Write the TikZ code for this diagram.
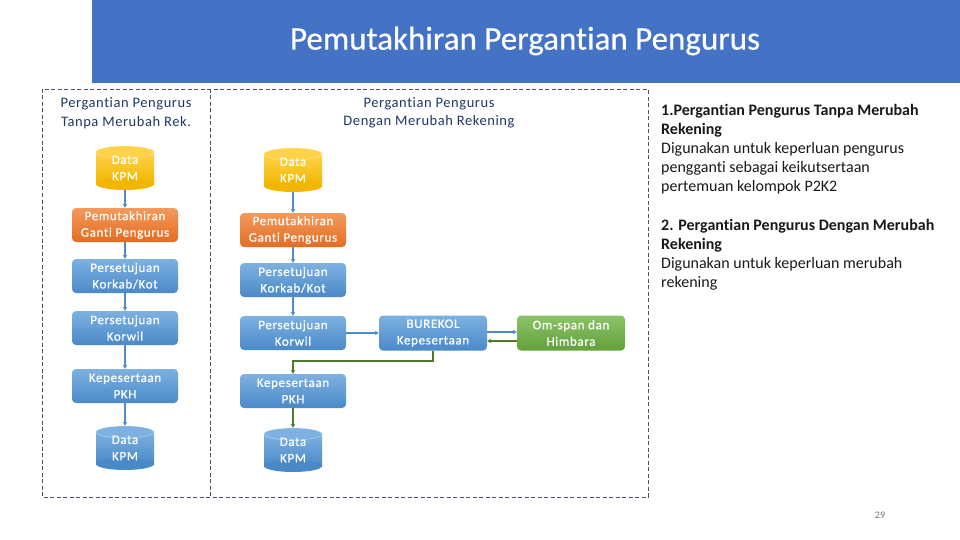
\documentclass[tikz,border=0pt]{standalone}
\usepackage{fontspec}
\setmainfont[Ligatures={NoCommon}]{Carlito}
\newfontfamily\boxfont[LetterSpace=5,FakeBold=0.6,Ligatures={NoCommon}]{Carlito}
\newfontfamily\hdrfont[LetterSpace=4,Ligatures={NoCommon}]{Carlito}
\newfontfamily\titlefont[FakeBold=0.5,Ligatures={NoCommon}]{Carlito}
\usetikzlibrary{arrows.meta}
\definecolor{banner}{HTML}{4472C4}
\definecolor{hdrtext}{HTML}{1F3864}
\definecolor{dashc}{HTML}{44546A}
\definecolor{bluetop}{HTML}{7DB1E1}
\definecolor{bluebot}{HTML}{4A89C8}
\definecolor{orgtop}{HTML}{F39A5C}
\definecolor{orgbot}{HTML}{E46C22}
\definecolor{yeltop}{HTML}{FFD24A}
\definecolor{yelbot}{HTML}{F2B600}
\definecolor{grntop}{HTML}{8CC46A}
\definecolor{grnbot}{HTML}{62A03A}
\definecolor{bline}{HTML}{4F8AC9}
\definecolor{gline}{HTML}{4E7A2E}
\tikzset{
  procbox/.style={rounded corners=4pt, minimum width=106pt, minimum height=34pt,
    text=white, font=\boxfont\fontsize{13}{16.5}\selectfont, align=center, inner sep=0pt},
  bluebox/.style={procbox, top color=bluetop, bottom color=bluebot},
  orangebox/.style={procbox, top color=orgtop, bottom color=orgbot},
  greenbox/.style={procbox, top color=grntop, bottom color=grnbot},
  cylnode/.style={minimum width=58pt, minimum height=44pt, inner sep=0pt,
    text=white, font=\boxfont\fontsize{13}{16.5}\selectfont, align=center},
  hdr/.style={text=hdrtext, font=\hdrfont\fontsize{14.5}{18.5}\selectfont, align=center},
  barrow/.style={draw=bline, line width=1.2pt, -{Stealth[length=4pt,width=4.5pt]}},
  garrow/.style={draw=gline, line width=1.4pt, -{Stealth[length=4pt,width=4.5pt]}},
  dashline/.style={draw=dashc, line width=0.8pt, dash pattern=on 4pt off 2.5pt}
}
% name, x, y, top colour, bottom colour
\newcommand\kpmcyl[5]{%
  \shade[top color=#4, bottom color=#5] (#2-29,#3-16) rectangle (#2+29,#3+16);
  \fill[#5] (#2,#3+16) ellipse [x radius=29pt, y radius=6pt];
  \fill[#4] (#2,#3-16) ellipse [x radius=29pt, y radius=6pt];
  \draw[white, opacity=0.35, line width=0.6pt] (#2,#3-16) ellipse [x radius=29pt, y radius=6pt];
  \node[cylnode] (#1) at (#2,#3) {Data\\KPM};
}
\begin{document}
\begin{tikzpicture}[x=1pt, y=-1pt]
\useasboundingbox (0,0) rectangle (960,540);
\fill[white] (0,0) rectangle (960,540);
% banner
\fill[banner] (92,0) rectangle (960,83);
\node[text=white, font=\titlefont\fontsize{33}{37}\selectfont] (title) at (525,41) {Pemutakhiran Pergantian Pengurus};
% dashed frame
\draw[dashline] (42,89) rectangle (648,497);
\draw[dashline] (210,89) -- (210,497);
% headers
\node[hdr] (hl) at (126,113) {Pergantian Pengurus\\Tanpa Merubah Rek.};
\node[hdr] (hr) at (429,113) {Pergantian Pengurus\\Dengan Merubah Rekening};
% left column
\kpmcyl{l0}{125}{168}{yeltop}{yelbot}
\node[orangebox] (l1) at (125,225) {Pemutakhiran\\Ganti Pengurus};
\node[bluebox] (l2) at (125,276) {Persetujuan\\Korkab/Kot};
\node[bluebox] (l3) at (125,328) {Persetujuan\\Korwil};
\node[bluebox] (l4) at (125,386) {Kepesertaan\\PKH};
\kpmcyl{l5}{125}{448}{bluetop}{bluebot}
% right column
\kpmcyl{r0}{293}{170}{yeltop}{yelbot}
\node[orangebox] (r1) at (293,230) {Pemutakhiran\\Ganti Pengurus};
\node[bluebox] (r2) at (293,280) {Persetujuan\\Korkab/Kot};
\node[bluebox] (r3) at (293,333) {Persetujuan\\Korwil};
\node[bluebox] (r4) at (293,391) {Kepesertaan\\PKH};
\kpmcyl{r5}{293}{450}{bluetop}{bluebot}
\node[bluebox, minimum width=108pt, minimum height=35pt] (bur) at (433,333) {BUREKOL\\Kepesertaan};
\node[greenbox, minimum width=108pt, minimum height=35pt] (oms) at (571,333) {Om-span dan\\Himbara};
% connectors left
\draw[barrow] (l0) -- (l1);
\draw[barrow] (l1) -- (l2);
\draw[barrow] (l2) -- (l3);
\draw[barrow] (l3) -- (l4);
\draw[barrow] (l4) -- (l5);
% connectors right
\draw[barrow] (r0) -- (r1);
\draw[barrow] (r1) -- (r2);
\draw[barrow] (r2) -- (r3);
\draw[barrow] (r3) -- (bur);
\draw[barrow] ([yshift=1pt]bur.east) -- ([yshift=1pt]oms.west);
\draw[garrow] ([yshift=-8pt]oms.west) -- ([yshift=-8pt]bur.east);
\coordinate (bend) at (433,361);
\draw[garrow] (bur.south) -- (bend) -| (r4.north);
\draw[garrow] (r4) -- (r5);
% explanation text
\node[anchor=north west, align=left, inner sep=0pt, text=black!90,
  font=\fontsize{16}{19}\selectfont] (expl) at (661,104)
  {\textbf{1.Pergantian Pengurus Tanpa Merubah}\\
   \textbf{Rekening}\\
   Digunakan untuk keperluan pengurus\\
   pengganti sebagai keikutsertaan\\
   pertemuan kelompok P2K2\\[20pt]
   \textbf{2. Pergantian Pengurus Dengan Merubah}\\
   \textbf{Rekening}\\
   Digunakan untuk keperluan merubah\\
   rekening};
% page number
\node[text=black!55, font=\fontsize{10}{12}\selectfont] (pg) at (880,515) {29};
\end{tikzpicture}
\end{document}
